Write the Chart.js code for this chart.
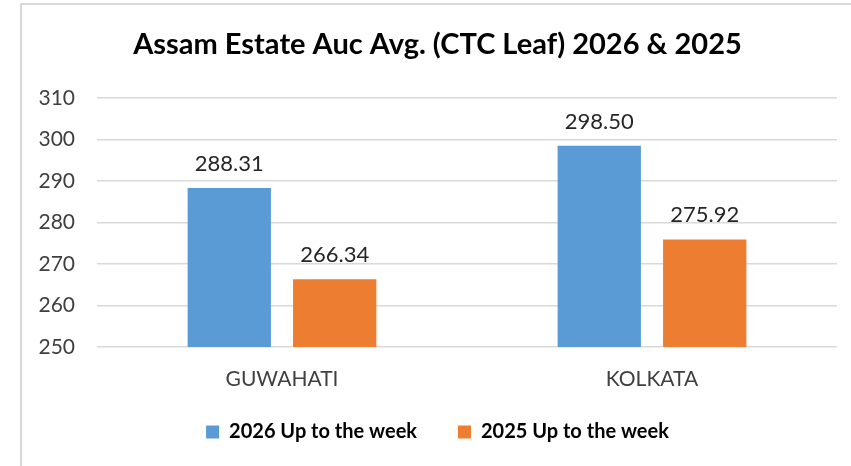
<!DOCTYPE html>
<html>
<head>
<meta charset="utf-8">
<script src="https://cdn.jsdelivr.net/npm/chart.js@4.4.1/dist/chart.umd.min.js"></script>
<style>
  html, body { margin: 0; padding: 0; background: #fff; }
  #wrap { position: relative; width: 851px; height: 466px; overflow: hidden; }
  #frame { position: absolute; left: 20px; top: 3px; width: 900px; height: 500px;
           border-left: 2px solid #d9d9d9; border-top: 2px solid #d9d9d9; }
  canvas { position: absolute; left: 0; top: 0; }
</style>
</head>
<body>
<div id="wrap">
  <div id="frame"></div>
  <canvas id="auctionChart" width="851" height="466"></canvas>
</div>
<script>
// Chart data
var centres = ['GUWAHATI', 'KOLKATA'];
var avg2026 = [288.31, 298.50];
var avg2025 = [266.34, 275.92];
var seriesNames = ['2026 Up to the week', '2025 Up to the week'];
var yTicks = [250, 260, 270, 280, 290, 300, 310];

var FONT = 'Lato, "Open Sans", sans-serif';

// Draws the value above each bar
var valueLabels = {
	id: 'valueLabels',
	afterDatasetsDraw: function (chart) {
		var ctx = chart.ctx;
		ctx.save();
		ctx.font = '22px ' + FONT;
		ctx.fillStyle = '#262626';
		ctx.textAlign = 'center';
		ctx.textBaseline = 'alphabetic';
		chart.data.datasets.forEach(function (ds, i) {
			chart.getDatasetMeta(i).data.forEach(function (bar, j) {
				ctx.fillText(ds.data[j].toFixed(2), bar.x, bar.y - 17);
			});
		});
		ctx.restore();
	}
};

new Chart(document.getElementById('auctionChart'), {
	type: 'bar',
	data: {
		labels: centres,
		datasets: [
			{ label: seriesNames[0], data: avg2026, backgroundColor: '#5b9bd5' },
			{ label: seriesNames[1], data: avg2025, backgroundColor: '#ed7d31' }
		]
	},
	options: {
		responsive: false,
		animation: false,
		devicePixelRatio: 1,
		categoryPercentage: 0.57,
		barPercentage: 0.79,
		layout: { padding: { left: 38, right: 14, top: 0, bottom: 14 } },
		plugins: {
			title: {
				display: true,
				text: 'Assam Estate Auc Avg. (CTC Leaf) 2026 & 2025',
				color: '#000',
				font: { family: FONT, size: 29, weight: 'bold' },
				padding: { top: 27.6, bottom: 35.6 }
			},
			legend: {
				position: 'bottom',
				labels: {
					color: '#000',
					font: { family: FONT, size: 20, weight: 'bold', lineHeight: 1 },
					boxWidth: 13,
					boxHeight: 13,
					padding: 31,
					// a little extra room between the two entries
					generateLabels: function (chart) {
						var items = Chart.defaults.plugins.legend.labels.generateLabels(chart);
						items[0].text += '\u2002';
						return items;
					}
				}
			},
			tooltip: { enabled: false }
		},
		scales: {
			x: {
				afterFit: function (scale) { scale.height = 44; },
				grid: { display: false, drawTicks: false },
				border: { display: false },
				ticks: { color: '#404040', font: { family: FONT, size: 21, lineHeight: 1 }, padding: 22 }
			},
			y: {
				min: yTicks[0],
				max: yTicks[yTicks.length - 1],
				afterFit: function (scale) { scale.width = 59; },
				afterBuildTicks: function (scale) {
					scale.ticks = yTicks.map(function (v) { return { value: v }; });
				},
				grid: { color: '#d9d9d9', lineWidth: 1.5, drawTicks: false },
				border: { display: false },
				ticks: { color: '#404040', font: { family: FONT, size: 21 }, padding: 22 }
			}
		}
	},
	plugins: [valueLabels]
});
</script>
</body>
</html>
